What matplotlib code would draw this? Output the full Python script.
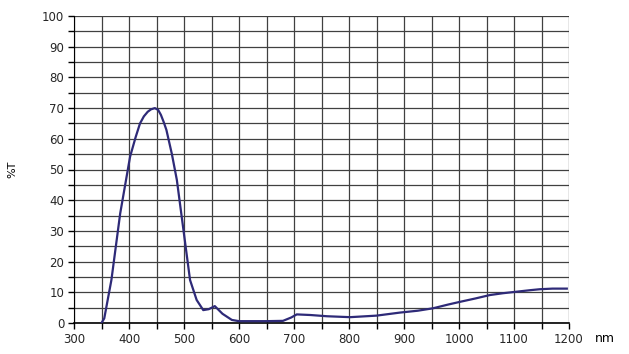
import numpy as np
import matplotlib.pyplot as plt

# Transmission curve
wavelength = [350, 355, 368, 384, 402, 412, 420, 427, 434, 440, 447, 453, 458, 463, 468,
              478, 487, 499, 511, 523, 535, 545, 556, 570, 587, 600, 650, 680, 695, 705,
              730, 760, 802, 850, 893, 925, 953, 980, 1002, 1030, 1056, 1080, 1105,
              1130, 1147, 1170, 1196]
transmission = [0, 1.5, 14, 35.7, 54.2, 60.5, 65, 67.3, 68.8, 69.6, 70, 69.4, 67.8, 65.5, 62.9,
                55, 46.6, 30.3, 14, 7.5, 4.2, 4.5, 5.5, 3, 1, 0.6, 0.6, 0.7, 1.8, 2.8,
                2.6, 2.2, 1.9, 2.4, 3.4, 4.0, 4.8, 6.0, 6.9, 8.0, 9.1, 9.7, 10.2,
                10.7, 11, 11.2, 11.2]

x_ticks = np.arange(300, 1201, 100)
y_ticks = np.arange(0, 101, 10)

fig = plt.figure(figsize=(6.29, 3.54), dpi=100)
ax = fig.add_axes([74/629, 1 - 323/354, 495/629, 307/354])

ax.plot(wavelength, transmission, color="#2e2a78", lw=1.6, zorder=3)

ax.set_xlim(300, 1200)
ax.set_ylim(0, 100)
ax.set_xticks(x_ticks)
ax.set_yticks(y_ticks)
ax.set_xticks(np.arange(300, 1201, 50), minor=True)
ax.set_yticks(np.arange(0, 101, 5), minor=True)
ax.grid(which="both", color="0.25", lw=0.9)

ax.tick_params(which="both", direction="out", length=4, width=1, color="k",
               labelsize=8.5, labelcolor="0.15", pad=3)
for s in ["top", "right"]:
    ax.spines[s].set_visible(False)
ax.spines["left"].set_color("k")
ax.spines["bottom"].set_color("k")
ax.spines["bottom"].set_linewidth(1.2)

ax.set_ylabel("%T", fontsize=8, labelpad=18)
fig.text(605/629, 1 - 339/354, "nm", fontsize=9, ha="center", va="center")

plt.savefig("out.png", dpi=100)
